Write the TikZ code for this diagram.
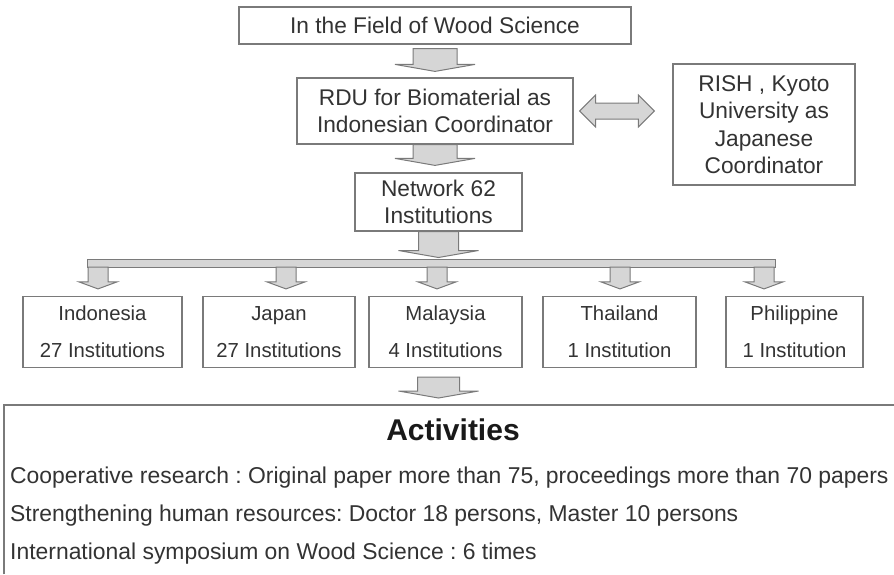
\documentclass[tikz,border=0pt]{standalone}
\usepackage{fontspec}
\setmainfont{Liberation Sans}
\usetikzlibrary{calc}
\frenchspacing

\definecolor{linegray}{HTML}{7A7A7A}
\definecolor{fillgray}{HTML}{D6D6D6}
\definecolor{textgray}{HTML}{333333}

\tikzset{
  box/.style={draw=linegray, line width=1.2pt, fill=white, text=textgray, inner sep=0pt, align=center, font=\fontsize{22.7}{27.5}\selectfont},
  cbox/.style={box, minimum height=71, font=\fontsize{20.3}{37}\selectfont},
  fatarrow/.style={draw=linegray, fill=fillgray, line width=1pt, line join=miter},
  % shaft half width, head half width, gap at start, gap at tip
  fatdown/.style n args={4}{to path={let \p1=(\tikztostart), \p2=(\tikztotarget) in
      (\x1-#1,\y1-#3) -- (\x1-#1,\y2+#4+7pt) -- (\x1-#2,\y2+#4+7pt) -- (\x1,\y2+#4)
      -- (\x1+#2,\y2+#4+7pt) -- (\x1+#1,\y2+#4+7pt) -- (\x1+#1,\y1-#3) -- cycle}},
  % gap at start, gap at end
  fatboth/.style n args={2}{to path={let \p1=(\tikztostart), \p2=(\tikztotarget) in
      (\x1+#1,\y1) -- (\x1+#1+16pt,\y1+16pt) -- (\x1+#1+16pt,\y1+8pt) -- (\x2-#2-16pt,\y1+8pt)
      -- (\x2-#2-16pt,\y1+16pt) -- (\x2-#2,\y1) -- (\x2-#2-16pt,\y1-16pt) -- (\x2-#2-16pt,\y1-8pt)
      -- (\x1+#1+16pt,\y1-8pt) -- (\x1+#1+16pt,\y1-16pt) -- cycle}},
}

\begin{document}
\begin{tikzpicture}[x=1pt,y=-1pt]
  \useasboundingbox (0,0) rectangle (894,574);

  % coordinators
  \node[box, minimum width=392, minimum height=37] (top) at (435,25.5) {In the Field of Wood Science};
  \node[box, minimum width=276, minimum height=66] (rdu) at (435,111) {RDU for Biomaterial as\\Indonesian Coordinator};
  \node[box, minimum width=182, minimum height=121] (rish) at (764,124.5) {RISH , Kyoto\\University as\\Japanese\\Coordinator};
  \node[box, minimum width=167, minimum height=58] (net) at (438.5,202) {Network 62\\Institutions};

  \draw[fatarrow] (top.south) to[fatdown={22pt}{40pt}{4pt}{6pt}] (rdu.north);
  \draw[fatarrow] (rdu.south) to[fatdown={22pt}{40pt}{0pt}{7pt}] (net.north);
  \draw[fatarrow] (rdu.east) to[fatboth={6pt}{18pt}] (rish.west);

  % distribution bar
  \node[fatarrow, inner sep=0pt, minimum width=688, minimum height=8] (bar) at (431,263) {};
  \draw[fatarrow] (net.south) to[fatdown={20pt}{40pt}{0pt}{1pt}] (bar.north);

  % countries
  \node[cbox, minimum width=159] (indo) at (102.5,332) {Indonesia\\27 Institutions};
  \node[cbox, minimum width=152] (japan) at (279,332) {Japan\\27 Institutions};
  \node[cbox, minimum width=153] (malay) at (445.5,332) {Malaysia\\4 Institutions};
  \node[cbox, minimum width=153] (thai) at (619.5,332) {Thailand\\1 Institution};
  \node[cbox, minimum width=137] (phil) at (794.5,332) {Philippine\\1 Institution};

  \coordinate (drop1) at (98,267);
  \coordinate (drop2) at (286,267);
  \coordinate (drop3) at (437,267);
  \coordinate (drop4) at (620,267);
  \coordinate (drop5) at (764,267);
  \draw[fatarrow] (drop1) to[fatdown={10pt}{19pt}{0pt}{7pt}] (indo.north);
  \draw[fatarrow] (drop2) to[fatdown={10pt}{19pt}{0pt}{7pt}] (japan.north);
  \draw[fatarrow] (drop3) to[fatdown={10pt}{19pt}{0pt}{7pt}] (malay.north);
  \draw[fatarrow] (drop4) to[fatdown={10pt}{19pt}{0pt}{7pt}] (thai.north);
  \draw[fatarrow] (drop5) to[fatdown={10pt}{19pt}{0pt}{7pt}] (phil.north);

  % activities (box runs off the page on the right and bottom)
  \node[anchor=north west, inner sep=0pt, minimum width=890, minimum height=169] (act) at (4,405) {};
  \draw[draw=linegray, line width=1.2pt] (act.south west) -- (act.north west) -- (act.north east);
  \draw[fatarrow] (malay.south -| net.south) to[fatdown={21pt}{40pt}{9pt}{7pt}] (act.north);
  \node[text=black!90, font=\fontsize{30}{36}\selectfont\bfseries] (acttitle) at (453,430) {Activities};
  \node[anchor=base west, text=textgray, inner sep=0pt, font=\fontsize{22.9}{27}\selectfont] (act1) at (10,483) {Cooperative research : Original paper more than 75, proceedings more than 70 papers};
  \node[anchor=base west, text=textgray, inner sep=0pt, font=\fontsize{22.9}{27}\selectfont] (act2) at (10,521) {Strengthening human resources: Doctor 18 persons, Master 10 persons};
  \node[anchor=base west, text=textgray, inner sep=0pt, font=\fontsize{22.9}{27}\selectfont] (act3) at (10,559) {International symposium on Wood Science : 6 times};
\end{tikzpicture}
\end{document}
